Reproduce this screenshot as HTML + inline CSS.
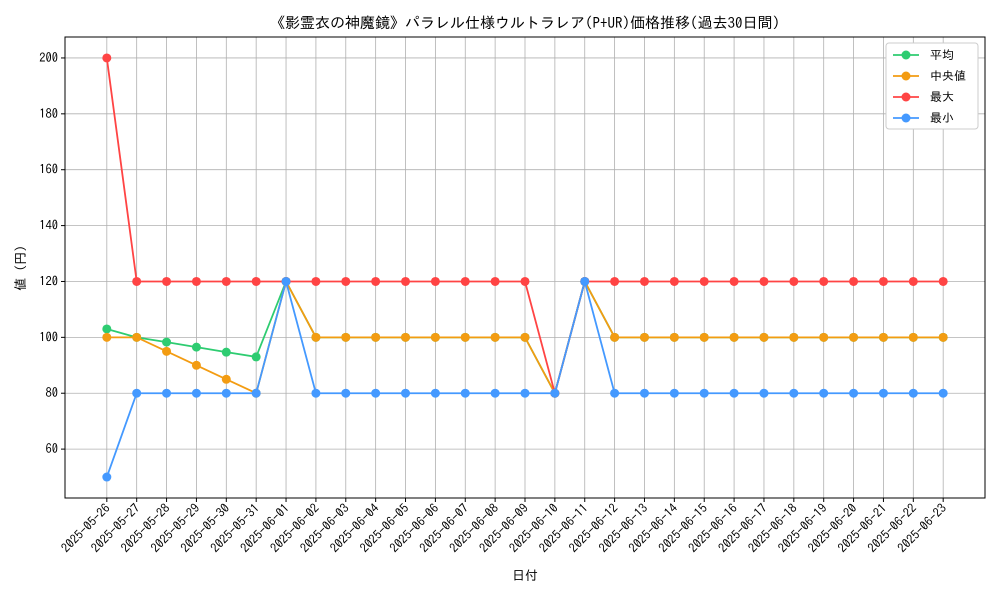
<!DOCTYPE html>
<html><head><meta charset="utf-8"><style>
body{margin:0;background:#fff;}
svg text{font-family:"IPAGothic","Noto Sans CJK JP",sans-serif;}
</style></head><body>
<svg id="chart" width="1000" height="600" xmlns="http://www.w3.org/2000/svg">
<rect width="1000" height="600" fill="#fff"/>
<text x="525" y="28" font-size="15" text-anchor="middle">《影霊衣の神魔鏡》パラレル仕様ウルトラレア(P+UR)価格推移(過去30日間)</text>
<g id="grid"></g><g id="axes"></g><g id="series"></g>
<text x="525" y="580" font-size="13" text-anchor="middle">日付</text>
<text transform="translate(25,268) rotate(-90)" font-size="13" text-anchor="middle">値 (円)</text>
<g>
<rect x="886" y="43" width="92" height="86" fill="#fff" stroke="#ccc" rx="3"/>
</g>
<g id="legend"></g>
</svg>
<script>
const dates=["2025-05-26","2025-05-27","2025-05-28","2025-05-29","2025-05-30","2025-05-31","2025-06-01","2025-06-02","2025-06-03","2025-06-04","2025-06-05","2025-06-06","2025-06-07","2025-06-08","2025-06-09","2025-06-10","2025-06-11","2025-06-12","2025-06-13","2025-06-14","2025-06-15","2025-06-16","2025-06-17","2025-06-18","2025-06-19","2025-06-20","2025-06-21","2025-06-22","2025-06-23"];
const avgVals=[103,100,98.3,96.5,94.7,93,120,100,100,100,100,100,100,100,100,80,120,100,100,100,100,100,100,100,100,100,100,100,100];
const medVals=[100,100,95,90,85,80,120,100,100,100,100,100,100,100,100,80,120,100,100,100,100,100,100,100,100,100,100,100,100];
const maxVals=[200,120,120,120,120,120,120,120,120,120,120,120,120,120,120,80,120,120,120,120,120,120,120,120,120,120,120,120,120];
const minVals=[50,80,80,80,80,80,120,80,80,80,80,80,80,80,80,80,120,80,80,80,80,80,80,80,80,80,80,80,80];
const yTicks=[60,80,100,120,140,160,180,200];
const seriesNames=["平均","中央値","最大","最小"];
const NS="http://www.w3.org/2000/svg";
const L=65,R=985,T=37,B=498;
const allV=[].concat(avgVals,medVals,maxVals,minVals);
const vmin=Math.min(...allV),vmax=Math.max(...allV),pad=(vmax-vmin)*0.05;
const y0=vmin-pad,y1=vmax+pad;
const n=dates.length,xp=(n-1)*0.05;
function X(i){return L+(i+xp)/(n-1+2*xp)*(R-L);}
function Y(v){return B-(v-y0)/(y1-y0)*(B-T);}
function mk(tag,a,p){const e=document.createElementNS(NS,tag);for(const k in a)e.setAttribute(k,a[k]);p.appendChild(e);return e;}
const grid=document.getElementById('grid'),axes=document.getElementById('axes'),ser=document.getElementById('series'),leg=document.getElementById('legend');
dates.forEach((d,i)=>{const x=X(i);
const g=mk('line',{x1:x,x2:x,y1:T,y2:B,stroke:'#b0b0b0','stroke-width':0.8},grid);


mk('line',{x1:x,x2:x,y1:B,y2:B+4,stroke:'#000'},axes);
const t=mk('text',{x:x+4,y:B+11,'font-size':12.5,'text-anchor':'end',transform:`rotate(-45 ${x+4} ${B+11})`},axes);


t.textContent=d;});
yTicks.forEach(v=>{const y=Y(v);
const g=mk('line',{x1:L,x2:R,y1:y,y2:y,stroke:'#b0b0b0','stroke-width':0.8},grid);


mk('line',{x1:L-4,x2:L,y1:y,y2:y,stroke:'#000'},axes);
const t=mk('text',{x:L-7,y:y+4,'font-size':12.5,'text-anchor':'end'},axes);


t.textContent=v;});
const frame=mk('rect',{x:L,y:T,width:R-L,height:B-T,fill:'none',stroke:'#000','stroke-width':1},axes);


const series=[[avgVals,'#2ecc71'],[medVals,'#f39c12'],[maxVals,'#ff4444'],[minVals,'#4499ff']];
series.forEach(([vals,c],si)=>{
const g=mk('g',{},ser);


mk('polyline',{points:vals.map((v,i)=>X(i)+','+Y(v)).join(' '),fill:'none',stroke:c,'stroke-width':1.8},g);
vals.forEach((v,i)=>{const p=mk('circle',{cx:X(i),cy:Y(v),r:4.5,fill:c},g);

});
const ly=55+si*21;
const e=mk('g',{},leg);


mk('line',{x1:893,x2:919,y1:ly,y2:ly,stroke:c,'stroke-width':1.8},e);
mk('circle',{cx:906,cy:ly,r:4.5,fill:c},e);
const t=mk('text',{x:930,y:ly+4,'font-size':12},e);t.textContent=seriesNames[si];
});
</script>
</body></html>
